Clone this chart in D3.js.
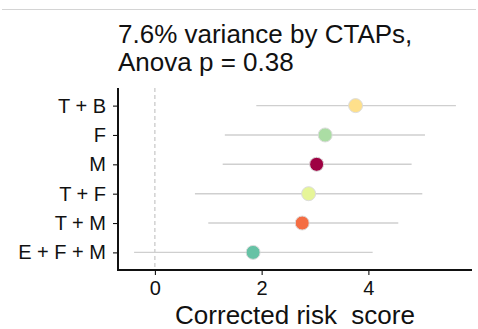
<!DOCTYPE html>
<html>
<head>
<meta charset="utf-8">
<style>
body { margin: 0; background: #fff; }
svg { display: block; font-family: "Liberation Sans", Arial, sans-serif; }
</style>
</head>
<body>
<svg id="chart" width="478" height="329"></svg>
<script src="https://cdn.jsdelivr.net/npm/d3@7"></script>
<script>
// groups from top to bottom
var groups = ["T + B", "F", "M", "T + F", "T + M", "E + F + M"];
var estimate = [3.76, 3.19, 3.03, 2.88, 2.76, 1.84];
var lower = [1.90, 1.31, 1.27, 0.75, 1.00, -0.39];
var upper = [5.64, 5.06, 4.81, 5.01, 4.56, 4.08];
var colors = ["#FEE08B", "#ABDDA4", "#9E0142", "#E6F598", "#F46D43", "#66C2A5"];
var xTicks = [0, 2, 4];
var titleLines = ["7.6% variance by CTAPs,", "Anova p = 0.38"];
var xTitle = "Corrected risk\u00a0\u00a0score";

var svg = d3.select("#chart");
var panel = {left: 118, right: 472, top: 88, bottom: 270};

// thin border line at the top of the screenshot
svg.append("line")
  .attr("x1", 2).attr("x2", 476).attr("y1", 9.5).attr("y2", 9.5)
  .attr("stroke", "#d4d4d4").attr("stroke-width", 1);

var lo = d3.min(lower), hi = d3.max(upper), pad = (hi - lo) * 0.05;
var x = d3.scaleLinear().domain([lo - pad, hi + pad]).range([panel.left, panel.right]);
var y = d3.scalePoint().domain(groups).range([panel.top, panel.bottom]).padding(0.6);

// zero reference
svg.append("line")
  .attr("x1", x(0)).attr("x2", x(0)).attr("y1", panel.top).attr("y2", panel.bottom)
  .attr("stroke", "#bbb").attr("stroke-width", 1).attr("stroke-dasharray", "4,3");

var rows = groups.map(function(g, i) {
  return {g: g, est: estimate[i], lo: lower[i], hi: upper[i], col: colors[i]};
});

svg.selectAll(".ci").data(rows).enter().append("line")
  .attr("class", "ci")
  .attr("x1", function(d) { return x(d.lo); })
  .attr("x2", function(d) { return x(d.hi); })
  .attr("y1", function(d) { return y(d.g); })
  .attr("y2", function(d) { return y(d.g); })
  .attr("stroke", "#cfcfcf").attr("stroke-width", 1.4);

svg.selectAll(".pt").data(rows).enter().append("circle")
  .attr("class", "pt")
  .attr("cx", function(d) { return x(d.est); })
  .attr("cy", function(d) { return y(d.g); })
  .attr("r", 7)
  .attr("fill", function(d) { return d.col; })
  .attr("stroke", "#dcdcdc").attr("stroke-width", 1);

// axes
var xAxis = svg.append("g")
  .attr("transform", "translate(0," + panel.bottom + ")")
  .call(d3.axisBottom(x).tickValues(xTicks).tickFormat(d3.format("d")).tickSize(5).tickPadding(6));
var yAxis = svg.append("g")
  .attr("transform", "translate(" + panel.left + ",0)")
  .call(d3.axisLeft(y).tickSize(5).tickPadding(7));

[xAxis, yAxis].forEach(function(a) {
  a.select(".domain").remove();
  a.selectAll(".tick line").attr("stroke", "#111").attr("stroke-width", 1.1);
  a.selectAll("text").attr("fill", "#111").style("font-size", "20px")
    .style("font-family", "'Liberation Sans', Arial, sans-serif");
});

svg.append("path")
  .attr("d", "M" + panel.left + "," + panel.top + "V" + panel.bottom + "H" + panel.right)
  .attr("fill", "none").attr("stroke", "#111").attr("stroke-width", 2);

svg.append("text")
  .attr("x", (panel.left + panel.right) / 2).attr("y", 324)
  .attr("text-anchor", "middle").style("font-size", "26px").attr("fill", "#111")
  .text(xTitle);

svg.selectAll(".title").data(titleLines).enter().append("text")
  .attr("class", "title")
  .attr("x", panel.left).attr("y", function(d, i) { return 43 + i * 28; })
  .style("font-size", "26px").attr("fill", "#111")
  .text(function(d) { return d; });
</script>
</body>
</html>
